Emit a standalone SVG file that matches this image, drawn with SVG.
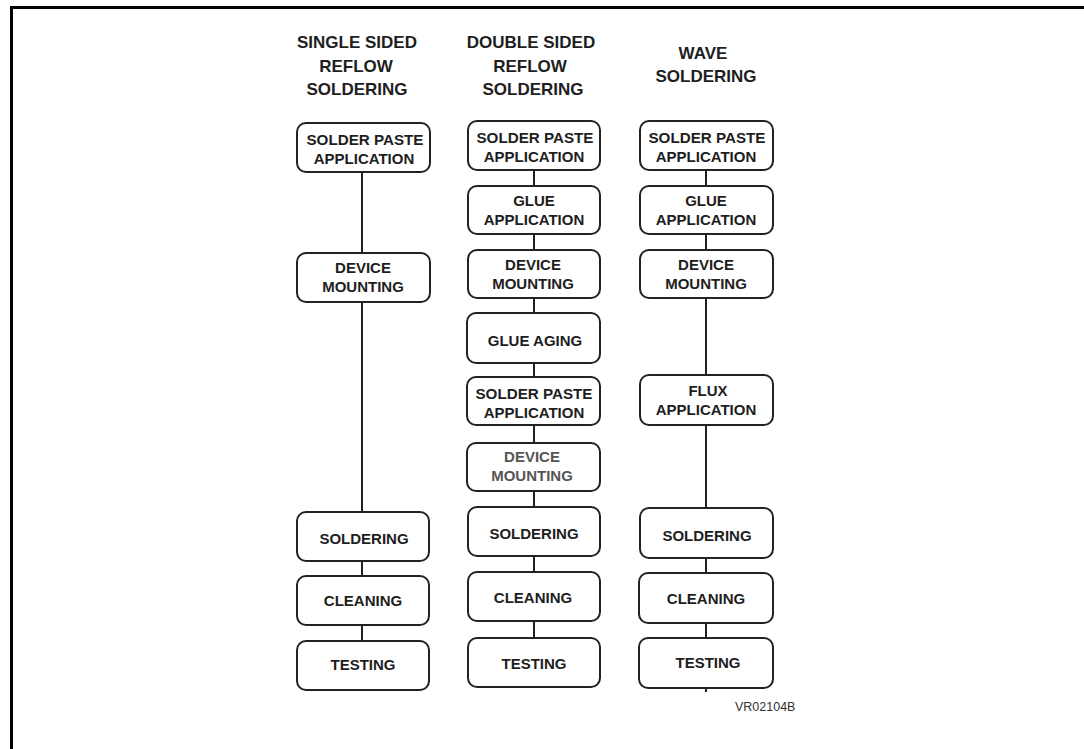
<svg xmlns="http://www.w3.org/2000/svg" width="1084" height="749" viewBox="0 0 1084 749">
<style>
.bg{fill:#fff}
.frame{fill:none;stroke:#000;stroke-width:3}
.box{fill:#fff;stroke:#222;stroke-width:2}
.lbl{font-family:"Liberation Sans",Arial,Helvetica,sans-serif;font-weight:bold;font-size:15px;fill:#1e1e1e;text-anchor:middle}
.sp{font-size:15.2px}
.hdr{font-family:"Liberation Sans",Arial,Helvetica,sans-serif;font-weight:bold;font-size:17px;fill:#1e1e1e;text-anchor:middle}
.gray{fill:#555}
.code{font-family:"Liberation Sans",Arial,Helvetica,sans-serif;font-size:12.5px;fill:#333}
.con{stroke:#222;stroke-width:2;fill:none}
</style>
<rect class="bg" x="0" y="0" width="1084" height="749"/>
<path class="frame" d="M11.5,749 V7.5 H1084"/>

<g id="headers">
<text class="hdr" x="357" y="48">SINGLE SIDED</text>
<text class="hdr" x="356" y="72">REFLOW</text>
<text class="hdr" x="357" y="95">SOLDERING</text>
<text class="hdr" x="531" y="48">DOUBLE SIDED</text>
<text class="hdr" x="530" y="72">REFLOW</text>
<text class="hdr" x="533" y="95">SOLDERING</text>
<text class="hdr" x="703" y="59">WAVE</text>
<text class="hdr" x="706" y="82">SOLDERING</text>
</g>

<g id="connectors">
<line class="con" x1="362" y1="172" x2="362" y2="253"/>
<line class="con" x1="362" y1="302" x2="362" y2="512"/>
<line class="con" x1="362" y1="561" x2="362" y2="576"/>
<line class="con" x1="362" y1="625" x2="362" y2="641"/>
<line class="con" x1="534" y1="170" x2="534" y2="186"/>
<line class="con" x1="534" y1="234" x2="534" y2="250"/>
<line class="con" x1="534" y1="298" x2="534" y2="313"/>
<line class="con" x1="534" y1="363" x2="534" y2="377"/>
<line class="con" x1="534" y1="425" x2="534" y2="443"/>
<line class="con" x1="534" y1="491" x2="534" y2="507"/>
<line class="con" x1="534" y1="556" x2="534" y2="572"/>
<line class="con" x1="534" y1="621" x2="534" y2="638"/>
<line class="con" x1="706" y1="170" x2="706" y2="186"/>
<line class="con" x1="706" y1="234" x2="706" y2="250"/>
<line class="con" x1="706" y1="298" x2="706" y2="375"/>
<line class="con" x1="706" y1="425" x2="706" y2="508"/>
<line class="con" x1="706" y1="558" x2="706" y2="573"/>
<line class="con" x1="706" y1="623" x2="706" y2="638"/>
<line class="con" x1="706" y1="688" x2="706" y2="692"/>
</g>

<!-- Column 1: single sided reflow -->
<g id="s1">
<rect class="box" x="297" y="123" width="133" height="49" rx="9"/>
<text class="lbl sp" x="365" y="145">SOLDER PASTE</text>
<text class="lbl" x="364" y="164">APPLICATION</text>
</g>
<g id="s2">
<rect class="box" x="297" y="253" width="133" height="49" rx="9"/>
<text class="lbl" x="363" y="273">DEVICE</text>
<text class="lbl" x="363" y="292">MOUNTING</text>
</g>
<g id="s3">
<rect class="box" x="297" y="512" width="132" height="49" rx="9"/>
<text class="lbl" x="364" y="544">SOLDERING</text>
</g>
<g id="s4">
<rect class="box" x="297" y="576" width="132" height="49" rx="9"/>
<text class="lbl" x="363" y="606">CLEANING</text>
</g>
<g id="s5">
<rect class="box" x="297" y="641" width="132" height="49" rx="9"/>
<text class="lbl" x="363" y="670">TESTING</text>
</g>

<!-- Column 2: double sided reflow -->
<g id="d1">
<rect class="box" x="468" y="121" width="132" height="49" rx="9"/>
<text class="lbl sp" x="535" y="143">SOLDER PASTE</text>
<text class="lbl" x="534" y="162">APPLICATION</text>
</g>
<g id="d2">
<rect class="box" x="468" y="186" width="132" height="48" rx="9"/>
<text class="lbl" x="534" y="206">GLUE</text>
<text class="lbl" x="534" y="225">APPLICATION</text>
</g>
<g id="d3">
<rect class="box" x="468" y="250" width="132" height="48" rx="9"/>
<text class="lbl" x="533" y="270">DEVICE</text>
<text class="lbl" x="533" y="289">MOUNTING</text>
</g>
<g id="d4">
<rect class="box" x="467" y="313" width="133" height="50" rx="9"/>
<text class="lbl" x="535" y="346">GLUE AGING</text>
</g>
<g id="d5">
<rect class="box" x="467" y="377" width="133" height="48" rx="9"/>
<text class="lbl sp" x="534" y="399">SOLDER PASTE</text>
<text class="lbl" x="534" y="418">APPLICATION</text>
</g>
<g id="d6">
<rect class="box" x="467" y="443" width="133" height="48" rx="9"/>
<text class="lbl gray" x="532" y="462">DEVICE</text>
<text class="lbl gray" x="532" y="481">MOUNTING</text>
</g>
<g id="d7">
<rect class="box" x="468" y="507" width="132" height="49" rx="9"/>
<text class="lbl" x="534" y="539">SOLDERING</text>
</g>
<g id="d8">
<rect class="box" x="468" y="572" width="132" height="49" rx="9"/>
<text class="lbl" x="533" y="603">CLEANING</text>
</g>
<g id="d9">
<rect class="box" x="468" y="638" width="132" height="49" rx="9"/>
<text class="lbl" x="534" y="669">TESTING</text>
</g>

<!-- Column 3: wave soldering -->
<g id="w1">
<rect class="box" x="640" y="121" width="133" height="49" rx="9"/>
<text class="lbl sp" x="707" y="143">SOLDER PASTE</text>
<text class="lbl" x="706" y="162">APPLICATION</text>
</g>
<g id="w2">
<rect class="box" x="640" y="186" width="133" height="48" rx="9"/>
<text class="lbl" x="706" y="206">GLUE</text>
<text class="lbl" x="706" y="225">APPLICATION</text>
</g>
<g id="w3">
<rect class="box" x="640" y="250" width="133" height="48" rx="9"/>
<text class="lbl" x="706" y="270">DEVICE</text>
<text class="lbl" x="706" y="289">MOUNTING</text>
</g>
<g id="w4">
<rect class="box" x="640" y="375" width="133" height="50" rx="9"/>
<text class="lbl" x="708" y="396">FLUX</text>
<text class="lbl" x="706" y="415">APPLICATION</text>
</g>
<g id="w5">
<rect class="box" x="640" y="508" width="133" height="50" rx="9"/>
<text class="lbl" x="707" y="541">SOLDERING</text>
</g>
<g id="w6">
<rect class="box" x="639" y="573" width="134" height="50" rx="9"/>
<text class="lbl" x="706" y="604">CLEANING</text>
</g>
<g id="w7">
<rect class="box" x="639" y="638" width="134" height="50" rx="9"/>
<text class="lbl" x="708" y="668">TESTING</text>
</g>

<text class="code" x="735" y="711">VR02104B</text>
</svg>
